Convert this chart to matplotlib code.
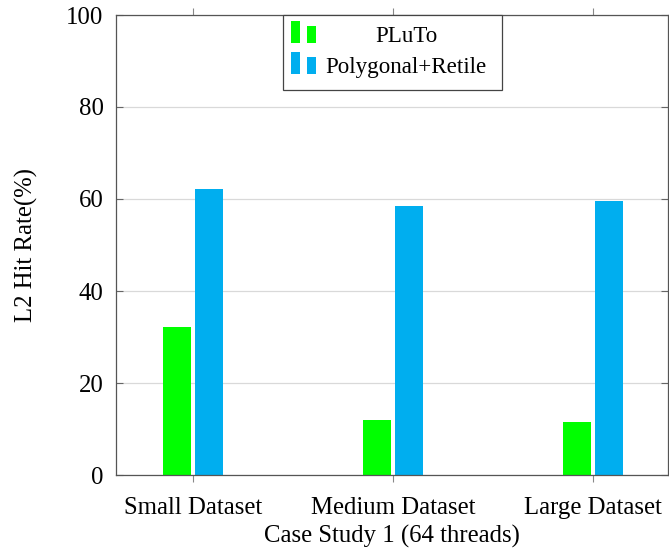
import matplotlib
matplotlib.use("Agg")
import matplotlib.pyplot as plt
import numpy as np
from matplotlib.patches import Rectangle

categories = ["Small Dataset", "Medium Dataset", "Large Dataset"]
series_names = ["PLuTo", "Polygonal+Retile"]
pluto = [32.2, 12.0, 11.6]
polygonal = [62.2, 58.5, 59.6]
colors = ["#00ff00", "#00aeef"]
yticks = [0, 20, 40, 60, 80, 100]

plt.rcParams['font.family'] = ['Liberation Serif', 'DejaVu Serif']
FS = 17.8

fig = plt.figure(figsize=(6.69, 5.53), dpi=100)
W, H = 669, 553
left, right, top, bottom = 116, 668, 15, 475
ax = fig.add_axes([left / W, 1 - bottom / H, (right - left) / W, (bottom - top) / H])

x = np.arange(len(categories))
bw = 0.14
off = 0.08
ax.bar(x - off, pluto, bw, color=colors[0], zorder=3)
ax.bar(x + off, polygonal, bw, color=colors[1], zorder=3)

ax.set_xlim(-0.385, 2.375)
ax.set_ylim(0, 100)
ax.set_yticks(yticks)
ax.set_xticks(x)
ax.set_xticklabels(categories, fontsize=FS)
ax.tick_params(axis='y', labelsize=FS, direction='in', left=True, right=True,
               length=5, color='#666666', width=0.8, pad=9)
ax.tick_params(axis='x', direction='out', bottom=True, top=True,
               length=5, color='#888888', width=0.8, pad=11)
ax.yaxis.grid(True, color='#d9d9d9', linewidth=0.9, zorder=0)
ax.set_axisbelow(True)
for s in ax.spines.values():
    s.set_color('#555555')
    s.set_linewidth(0.9)
    s.set_zorder(4)

ax.set_ylabel("L2 Hit Rate(%)", fontsize=FS, labelpad=20)
ax.set_xlabel("Case Study 1 (64 threads)", fontsize=FS, labelpad=4)

def fx(px):
    return px / W
def fy(py):
    return 1 - py / H

leg = Rectangle((fx(283), fy(90)), fx(502) - fx(283), fy(15) - fy(90),
                transform=fig.transFigure, facecolor='white', edgecolor='#444444',
                linewidth=0.9, zorder=10)
fig.add_artist(leg)
rows = [(43, 21, 26, 36), (74, 52, 57, 67)]
for (ybot, ytall, yshort, ytext), name, c in zip(rows, series_names, colors):
    fig.add_artist(Rectangle((fx(291), fy(ybot)), fx(300) - fx(291), fy(ytall) - fy(ybot),
                             transform=fig.transFigure, facecolor=c, edgecolor='none', zorder=11))
    fig.add_artist(Rectangle((fx(307), fy(ybot)), fx(316) - fx(307), fy(yshort) - fy(ybot),
                             transform=fig.transFigure, facecolor=c, edgecolor='none', zorder=11))
    fig.text(fx(406), fy(ytext), name, ha='center', va='center', fontsize=16.6, zorder=12)

fig.savefig("out.png", dpi=100)
